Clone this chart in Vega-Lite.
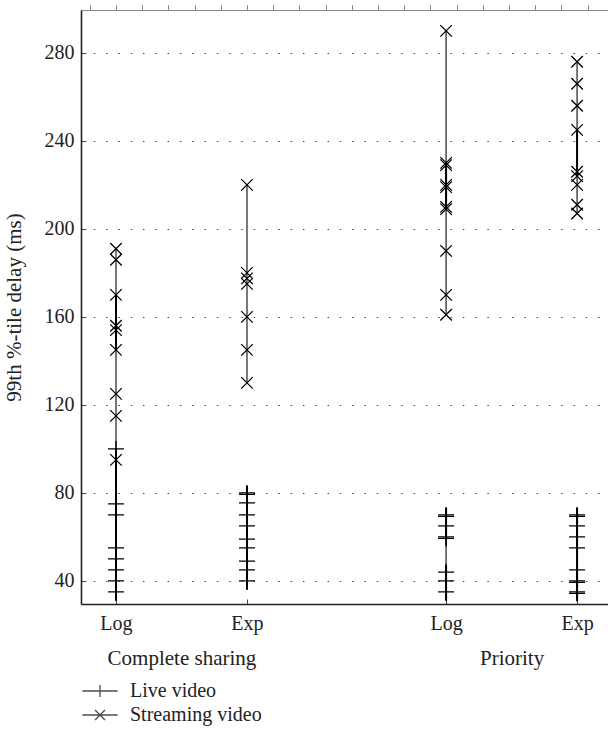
{
  "$schema": "https://vega.github.io/schema/vega-lite/v6.json",
  "width": 527,
  "height": 594,
  "autosize": {"type": "none"},
  "padding": {"left": 81, "top": 10, "right": 0, "bottom": 136},
  "background": "white",
  "config": {
    "font": "Liberation Serif",
    "view": {"stroke": null},
    "axis": {"labelFont": "Liberation Serif", "titleFont": "Liberation Serif", "labelColor": "#222", "titleColor": "#222", "labelFontSize": 20, "titleFontSize": 21, "titleFontWeight": "normal"}
  },
  "datasets": {
    "ranges": [
      {"pos": 1, "lo": 31, "hi": 191},
      {"pos": 2, "lo": 130, "hi": 220},
      {"pos": 2, "lo": 36, "hi": 83},
      {"pos": 3.52, "lo": 161, "hi": 290},
      {"pos": 3.52, "lo": 31, "hi": 73},
      {"pos": 4.52, "lo": 207, "hi": 276},
      {"pos": 4.52, "lo": 31, "hi": 73}
    ],
    "overlaps": [
      {"pos": 1, "lo": 145, "hi": 170},
      {"pos": 1, "lo": 31, "hi": 100},
      {"pos": 2, "lo": 36, "hi": 83},
      {"pos": 3.52, "lo": 210, "hi": 230},
      {"pos": 3.52, "lo": 59, "hi": 73},
      {"pos": 3.52, "lo": 31, "hi": 47},
      {"pos": 4.52, "lo": 224, "hi": 245},
      {"pos": 4.52, "lo": 31, "hi": 73}
    ],
    "points": [
      {"pos": 1, "series": "Live video", "delay": 100},
      {"pos": 1, "series": "Live video", "delay": 75},
      {"pos": 1, "series": "Live video", "delay": 70},
      {"pos": 1, "series": "Live video", "delay": 55},
      {"pos": 1, "series": "Live video", "delay": 50},
      {"pos": 1, "series": "Live video", "delay": 45},
      {"pos": 1, "series": "Live video", "delay": 40},
      {"pos": 1, "series": "Live video", "delay": 35},
      {"pos": 1, "series": "Streaming video", "delay": 191},
      {"pos": 1, "series": "Streaming video", "delay": 186},
      {"pos": 1, "series": "Streaming video", "delay": 170},
      {"pos": 1, "series": "Streaming video", "delay": 156},
      {"pos": 1, "series": "Streaming video", "delay": 154},
      {"pos": 1, "series": "Streaming video", "delay": 145},
      {"pos": 1, "series": "Streaming video", "delay": 125},
      {"pos": 1, "series": "Streaming video", "delay": 115},
      {"pos": 1, "series": "Streaming video", "delay": 95},
      {"pos": 2, "series": "Live video", "delay": 80},
      {"pos": 2, "series": "Live video", "delay": 79.3},
      {"pos": 2, "series": "Live video", "delay": 75.5},
      {"pos": 2, "series": "Live video", "delay": 70},
      {"pos": 2, "series": "Live video", "delay": 65},
      {"pos": 2, "series": "Live video", "delay": 59},
      {"pos": 2, "series": "Live video", "delay": 55},
      {"pos": 2, "series": "Live video", "delay": 49},
      {"pos": 2, "series": "Live video", "delay": 45},
      {"pos": 2, "series": "Live video", "delay": 40},
      {"pos": 2, "series": "Streaming video", "delay": 220},
      {"pos": 2, "series": "Streaming video", "delay": 180},
      {"pos": 2, "series": "Streaming video", "delay": 177.5},
      {"pos": 2, "series": "Streaming video", "delay": 175},
      {"pos": 2, "series": "Streaming video", "delay": 160},
      {"pos": 2, "series": "Streaming video", "delay": 145},
      {"pos": 2, "series": "Streaming video", "delay": 130},
      {"pos": 3.52, "series": "Live video", "delay": 70},
      {"pos": 3.52, "series": "Live video", "delay": 69.3},
      {"pos": 3.52, "series": "Live video", "delay": 65},
      {"pos": 3.52, "series": "Live video", "delay": 60},
      {"pos": 3.52, "series": "Live video", "delay": 59.3},
      {"pos": 3.52, "series": "Live video", "delay": 44},
      {"pos": 3.52, "series": "Live video", "delay": 40},
      {"pos": 3.52, "series": "Live video", "delay": 35},
      {"pos": 3.52, "series": "Streaming video", "delay": 290},
      {"pos": 3.52, "series": "Streaming video", "delay": 230},
      {"pos": 3.52, "series": "Streaming video", "delay": 229},
      {"pos": 3.52, "series": "Streaming video", "delay": 220},
      {"pos": 3.52, "series": "Streaming video", "delay": 219},
      {"pos": 3.52, "series": "Streaming video", "delay": 210},
      {"pos": 3.52, "series": "Streaming video", "delay": 209},
      {"pos": 3.52, "series": "Streaming video", "delay": 190},
      {"pos": 3.52, "series": "Streaming video", "delay": 170},
      {"pos": 3.52, "series": "Streaming video", "delay": 161},
      {"pos": 4.52, "series": "Live video", "delay": 70},
      {"pos": 4.52, "series": "Live video", "delay": 69.3},
      {"pos": 4.52, "series": "Live video", "delay": 65},
      {"pos": 4.52, "series": "Live video", "delay": 60},
      {"pos": 4.52, "series": "Live video", "delay": 55},
      {"pos": 4.52, "series": "Live video", "delay": 45},
      {"pos": 4.52, "series": "Live video", "delay": 40},
      {"pos": 4.52, "series": "Live video", "delay": 39.3},
      {"pos": 4.52, "series": "Live video", "delay": 35},
      {"pos": 4.52, "series": "Live video", "delay": 34.3},
      {"pos": 4.52, "series": "Streaming video", "delay": 276},
      {"pos": 4.52, "series": "Streaming video", "delay": 266},
      {"pos": 4.52, "series": "Streaming video", "delay": 256},
      {"pos": 4.52, "series": "Streaming video", "delay": 245},
      {"pos": 4.52, "series": "Streaming video", "delay": 226},
      {"pos": 4.52, "series": "Streaming video", "delay": 224},
      {"pos": 4.52, "series": "Streaming video", "delay": 220},
      {"pos": 4.52, "series": "Streaming video", "delay": 211},
      {"pos": 4.52, "series": "Streaming video", "delay": 207}
    ],
    "groups": [
      {"gpos": 1.5, "group": "Complete sharing"},
      {"gpos": 4.02, "group": "Priority"}
    ],
    "legendKeys": [
      {"series": "Live video", "pos": 0, "delay": 0},
      {"series": "Streaming video", "pos": 0, "delay": 0}
    ]
  },
  "layer": [
    {
      "data": {"name": "ranges"},
      "mark": {"type": "rule", "color": "#555", "strokeWidth": 1.6},
      "encoding": {
        "x": {
          "field": "pos", "type": "quantitative",
          "scale": {"domain": [0.733, 4.756], "nice": false, "zero": false},
          "axis": {
            "orient": "bottom",
            "values": [1, 2, 3.52, 4.52],
            "labelExpr": "(datum.value < 1.5 || (datum.value > 3 && datum.value < 4)) ? 'Log' : 'Exp'",
            "grid": false, "title": null,
            "domainColor": "#222", "domainWidth": 1.6,
            "tickSize": -5, "tickColor": "#444", "tickWidth": 1,
            "labelPadding": 14
          }
        },
        "y": {
          "field": "lo", "type": "quantitative",
          "scale": {"domain": [29.5, 299.5], "nice": false, "zero": false},
          "axis": {
            "values": [40, 80, 120, 160, 200, 240, 280],
            "title": "99th %-tile delay (ms)",
            "grid": true, "gridDash": [1.5, 10.8], "gridColor": "#444", "gridWidth": 1.2,
            "domainColor": "#222", "domainWidth": 1.6,
            "tickSize": -5, "tickColor": "#444",
            "labelPadding": 12, "titlePadding": 20
          }
        },
        "y2": {"field": "hi"}
      }
    },
    {
      "data": {"name": "overlaps"},
      "mark": {"type": "rule", "color": "#000", "strokeWidth": 2},
      "encoding": {
        "x": {"field": "pos", "type": "quantitative"},
        "y": {"field": "lo", "type": "quantitative"},
        "y2": {"field": "hi"}
      }
    },
    {
      "data": {"name": "points"},
      "mark": {"type": "point", "filled": false, "stroke": "#000", "strokeWidth": 1.3, "opacity": 1},
      "encoding": {
        "x": {"field": "pos", "type": "quantitative"},
        "y": {"field": "delay", "type": "quantitative"},
        "shape": {
          "field": "series", "type": "nominal",
          "scale": {"domain": ["Live video", "Streaming video"], "range": ["M-1,0H1M0,-1V1", "M-0.72,-0.72L0.72,0.72M-0.72,0.72L0.72,-0.72"]},
          "legend": null
        },
        "size": {"value": 256}
      }
    },
    {
      "data": {"name": "legendKeys"},
      "mark": {"type": "point", "filled": false, "stroke": "#000", "strokeWidth": 1.3, "clip": true},
      "encoding": {
        "x": {"field": "pos", "type": "quantitative"},
        "y": {"field": "delay", "type": "quantitative"},
        "shape": {
          "field": "series", "type": "nominal",
          "scale": {"domain": ["Live video", "Streaming video"], "range": ["M-1.6,0H1.6M0,-0.55V0.55", "M-1.6,0H1.6M-0.45,-0.45L0.45,0.45M-0.45,0.45L0.45,-0.45"]},
          "legend": {
            "orient": "none", "legendX": 7, "legendY": 669,
            "direction": "vertical", "title": null,
            "labelFontSize": 20, "labelFont": "Liberation Serif", "labelColor": "#222",
            "symbolSize": 484, "symbolStrokeColor": "#000", "symbolStrokeWidth": 1.3, "symbolFillColor": "transparent",
            "labelOffset": 18, "rowPadding": 2
          }
        }
      }
    },
    {
      "data": {"name": "groups"},
      "mark": {"type": "point", "opacity": 0},
      "encoding": {
        "x": {
          "field": "gpos", "type": "quantitative",
          "axis": {
            "orient": "bottom",
            "values": [1.5, 4.02],
            "labelExpr": "datum.value < 3 ? 'Complete sharing' : 'Priority'",
            "domain": false, "ticks": false, "grid": false, "title": null,
            "labelFontSize": 21,
            "labelPadding": 43
          }
        }
      }
    }
  ],
  "resolve": {"axis": {"x": "independent"}, "scale": {"shape": "independent"}}
}
